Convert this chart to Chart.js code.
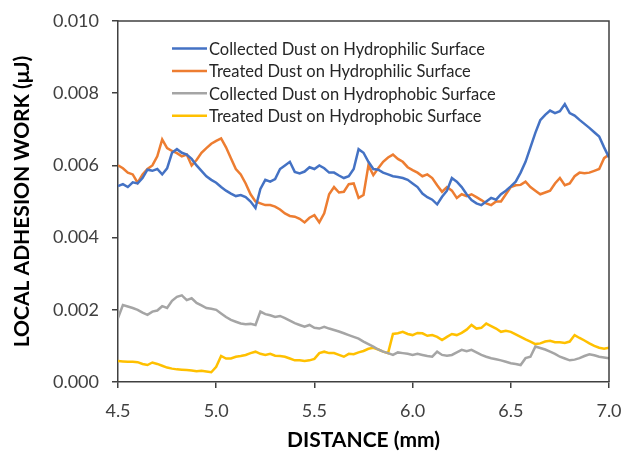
<!DOCTYPE html>
<html>
<head>
<meta charset="utf-8">
<script src="https://cdn.jsdelivr.net/npm/chart.js@4.4.1/dist/chart.umd.min.js"></script>
<style>
  html, body { margin: 0; padding: 0; background: #ffffff; }
  #wrap { width: 622px; height: 452px; }
</style>
</head>
<body>
<div id="wrap"><canvas id="c" width="622" height="452"></canvas></div>
<script>
// Distance (mm), sampled every 0.025 mm
const distance = [];
for (let i = 0; i <= 100; i++) distance.push(+(4.5 + i * 0.025).toFixed(3));

const seriesLabels = [
  "Collected Dust on Hydrophilic Surface",
  "Treated Dust on Hydrophilic Surface",
  "Collected Dust on Hydrophobic Surface",
  "Treated Dust on Hydrophobic Surface"
];

const collectedHydrophilic = [
  0.00543,0.00548,0.00540,0.00553,0.00550,0.00565,0.00588,0.00585,0.00590,0.00575,
  0.00592,0.00635,0.00645,0.00635,0.00630,0.00618,0.00600,0.00585,0.00570,0.00560,
  0.00552,0.00540,0.00530,0.00522,0.00515,0.00518,0.00512,0.00500,0.00482,0.00535,
  0.00560,0.00555,0.00562,0.00590,0.00600,0.00610,0.00582,0.00578,0.00583,0.00595,
  0.00590,0.00600,0.00592,0.00580,0.00580,0.00572,0.00565,0.00570,0.00590,0.00645,
  0.00635,0.00610,0.00590,0.00588,0.00580,0.00575,0.00570,0.00568,0.00565,0.00560,
  0.00550,0.00540,0.00522,0.00512,0.00505,0.00492,0.00513,0.00530,0.00565,0.00555,
  0.00540,0.00520,0.00504,0.00495,0.00490,0.00500,0.00510,0.00505,0.00520,0.00530,
  0.00542,0.00555,0.00580,0.00610,0.00650,0.00690,0.00725,0.00740,0.00752,0.00745,
  0.00750,0.00770,0.00745,0.00738,0.00726,0.00715,0.00704,0.00692,0.00680,0.00650,
  0.00622
];

const treatedHydrophilic = [
  0.00600,0.00592,0.00580,0.00575,0.00552,0.00575,0.00590,0.00600,0.00625,0.00672,
  0.00648,0.00640,0.00634,0.00625,0.00630,0.00600,0.00615,0.00635,0.00648,0.00660,
  0.00668,0.00675,0.00650,0.00620,0.00590,0.00575,0.00550,0.00520,0.00500,0.00495,
  0.00490,0.00490,0.00486,0.00478,0.00467,0.00460,0.00458,0.00452,0.00442,0.00455,
  0.00462,0.00442,0.00467,0.00520,0.00540,0.00525,0.00527,0.00548,0.00550,0.00510,
  0.00518,0.00600,0.00573,0.00592,0.00610,0.00622,0.00630,0.00618,0.00610,0.00595,
  0.00587,0.00580,0.00570,0.00575,0.00565,0.00545,0.00527,0.00540,0.00530,0.00510,
  0.00520,0.00515,0.00520,0.00512,0.00504,0.00495,0.00490,0.00500,0.00500,0.00520,
  0.00540,0.00545,0.00546,0.00555,0.00540,0.00530,0.00520,0.00525,0.00530,0.00550,
  0.00565,0.00545,0.00550,0.00570,0.00580,0.00578,0.00580,0.00585,0.00590,0.00620,
  0.00630
];

const collectedHydrophobic = [
  0.00177,0.00213,0.00209,0.00205,0.00200,0.00192,0.00186,0.00195,0.00198,0.00210,
  0.00205,0.00225,0.00236,0.00240,0.00227,0.00232,0.00219,0.00212,0.00205,0.00203,
  0.00200,0.00190,0.00180,0.00172,0.00167,0.00162,0.00160,0.00161,0.00158,0.00195,
  0.00188,0.00185,0.00180,0.00183,0.00177,0.00170,0.00163,0.00158,0.00153,0.00158,
  0.00150,0.00148,0.00153,0.00148,0.00144,0.00140,0.00135,0.00130,0.00125,0.00120,
  0.00112,0.00105,0.00098,0.00090,0.00084,0.00080,0.00075,0.00082,0.00080,0.00078,
  0.00075,0.00078,0.00075,0.00072,0.00070,0.00084,0.00075,0.00073,0.00075,0.00082,
  0.00089,0.00085,0.00089,0.00082,0.00075,0.00070,0.00066,0.00063,0.00060,0.00056,
  0.00052,0.00050,0.00047,0.00066,0.00070,0.00098,0.00094,0.00090,0.00084,0.00078,
  0.00070,0.00065,0.00060,0.00062,0.00066,0.00072,0.00077,0.00074,0.00070,0.00068,
  0.00066
];

const treatedHydrophobic = [
  0.00058,0.00057,0.00056,0.00056,0.00055,0.00050,0.00047,0.00054,0.00050,0.00045,
  0.00040,0.00037,0.00035,0.00034,0.00033,0.00032,0.00030,0.00031,0.00029,0.00027,
  0.00042,0.00072,0.00065,0.00065,0.00070,0.00072,0.00075,0.00080,0.00084,0.00078,
  0.00075,0.00078,0.00073,0.00072,0.00070,0.00065,0.00060,0.00060,0.00058,0.00060,
  0.00064,0.00080,0.00084,0.00080,0.00080,0.00075,0.00070,0.00078,0.00077,0.00082,
  0.00086,0.00092,0.00095,0.00090,0.00084,0.00080,0.00133,0.00135,0.00139,0.00133,
  0.00130,0.00136,0.00135,0.00128,0.00130,0.00125,0.00116,0.00125,0.00133,0.00130,
  0.00136,0.00145,0.00158,0.00148,0.00150,0.00162,0.00155,0.00148,0.00139,0.00142,
  0.00139,0.00132,0.00125,0.00118,0.00112,0.00105,0.00107,0.00112,0.00114,0.00110,
  0.00110,0.00108,0.00112,0.00130,0.00122,0.00115,0.00107,0.00100,0.00095,0.00092,
  0.00095
];

const yTicks = [0.000, 0.002, 0.004, 0.006, 0.008, 0.010];
const xTicks = [4.5, 5.0, 5.5, 6.0, 6.5, 7.0];

const seriesValues = [collectedHydrophilic, treatedHydrophilic, collectedHydrophobic, treatedHydrophobic];
const seriesColors = ["#4472C4", "#ED7D31", "#A5A5A5", "#FFC000"];

const datasets = seriesValues.map((vals, k) => ({
  label: seriesLabels[k],
  data: vals.map((v, i) => ({ x: distance[i], y: v })),
  borderColor: seriesColors[k],
  backgroundColor: seriesColors[k],
  borderWidth: 2.5,
  pointRadius: 0,
  tension: 0,
  fill: false
}));

const innerLegend = {
  id: 'innerLegend',
  afterDraw(chart) {
    const ctx = chart.ctx;
    const a = chart.chartArea;
    ctx.save();
    // frame top & right
    ctx.strokeStyle = '#404040';
    ctx.lineWidth = 1.5;
    ctx.beginPath();
    ctx.moveTo(a.left, a.top);
    ctx.lineTo(a.right, a.top);
    ctx.lineTo(a.right, a.bottom);
    ctx.stroke();
    // legend
    ctx.font = '16.5px Lato';
    ctx.textBaseline = 'middle';
    ctx.textAlign = 'left';
    chart.data.datasets.forEach((ds, i) => {
      const y = a.top + 27.5 + i * 22.4;
      const x0 = a.left + 54;
      ctx.strokeStyle = ds.borderColor;
      ctx.lineWidth = 2.5;
      ctx.beginPath();
      ctx.moveTo(x0, y);
      ctx.lineTo(x0 + 35, y);
      ctx.stroke();
      ctx.fillStyle = '#262626';
      ctx.fillText(ds.label, x0 + 37, y + 1);
    });
    ctx.restore();
  }
};

new Chart(document.getElementById('c'), {
  type: 'line',
  data: { datasets },
  options: {
    responsive: false,
    animation: false,
    devicePixelRatio: 1,
    layout: { padding: { top: 21, right: 13, left: 0, bottom: 0 } },
    plugins: { legend: { display: false }, tooltip: { enabled: false } },
    scales: {
      x: {
        type: 'linear',
        min: 4.5, max: 7.0,
        afterFit(s) { s.height = 70; s.paddingLeft = 0; s.paddingRight = 0; },
        afterBuildTicks(s) { s.ticks = xTicks.map(v => ({ value: v })); },
        ticks: {
          callback: v => Number(v).toFixed(1),
          font: { family: 'Lato', size: 18 },
          color: '#404040',
          padding: 12,
          maxRotation: 0
        },
        grid: { display: true, drawOnChartArea: false, drawTicks: true, tickLength: 6, color: '#404040', lineWidth: 1.5 },
        border: { display: true, color: '#404040', width: 1.5 },
        title: {
          display: true, text: 'DISTANCE (mm)',
          font: { family: 'Lato', size: 21, weight: 'bold' },
          color: '#000000',
          padding: { top: 0, bottom: -1 }
        }
      },
      y: {
        type: 'linear',
        min: 0, max: 0.010,
        afterFit(s) { s.width = 118; s.paddingTop = 0; s.paddingBottom = 0; },
        afterBuildTicks(s) { s.ticks = yTicks.map(v => ({ value: v })); },
        ticks: {
          callback: v => Number(v).toFixed(3),
          font: { family: 'Lato', size: 18 },
          color: '#404040',
          padding: 13
        },
        grid: { display: true, drawOnChartArea: false, drawTicks: true, tickLength: 6, color: '#404040', lineWidth: 1.5 },
        border: { display: true, color: '#404040', width: 1.5 },
        title: {
          display: true, text: 'LOCAL ADHESION WORK (μJ)',
          font: { family: 'Lato', size: 21, weight: 'bold' },
          color: '#000000',
          padding: { top: 9.5, bottom: 9.5 }
        }
      }
    }
  },
  plugins: [innerLegend]
});
</script>
</body>
</html>
